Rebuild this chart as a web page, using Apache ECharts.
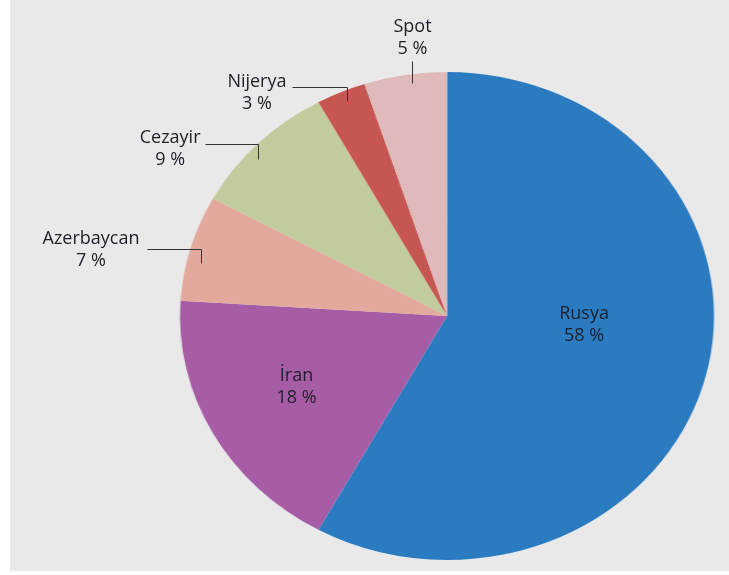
<!DOCTYPE html>
<html>
<head>
<meta charset="utf-8">
<script src="https://cdn.jsdelivr.net/npm/echarts@6/dist/echarts.min.js"></script>
<style>
  html, body { margin: 0; padding: 0; background: #ffffff; }
  #stage { position: relative; width: 729px; height: 575px; overflow: hidden; }
  #panel { position: absolute; left: 10px; top: 0; width: 719px; height: 571px; background: #e9e9e9; }
  #pie { position: absolute; left: 0; top: 0; height: 575px; transform-origin: 0 0; }
  #labels { position: absolute; left: 0; top: 0; width: 729px; height: 575px; }
</style>
</head>
<body>
<div id="stage">
  <div id="panel"></div>
  <div id="pie"></div>
  <div id="labels"></div>
</div>
<script>
// Supplier shares (%), clockwise from 12 o'clock
const categories = ['Rusya', 'İran', 'Azerbaycan', 'Cezayir', 'Nijerya', 'Spot'];
const shares = [58, 18, 7, 9, 3, 5];
const sliceColors = ['#2b7bc1', '#a75ca6', '#e3a99d', '#c2cb9e', '#c65651', '#e0babb'];
const insideNames = ['Rusya', 'İran'];

// Pie geometry: the disc is drawn as an ellipse (horizontal stretch SX)
const CX = 447, CY = 316, RY = 244, SX = 267 / 244;
const FONT = '"Open Sans", "Noto Sans", sans-serif';
const TEXT_COLOR = '#1f1f29';

// Label nudges for the inside labels
const insideShift = { 'Rusya': [16, -22], 'İran': [-41, 11] };
// Leader geometry for the outside labels (corner shift, drop into slice, run length)
const leaders = {
  'Azerbaycan': { side: 'left', shift: [10, 1], down: 14, len: 54, gap: 8, lift: 4 },
  'Cezayir':    { side: 'left', shift: [0, 1],  down: 15, len: 53, gap: 5, lift: 0 },
  'Nijerya':    { side: 'left', shift: [6, -5], down: 14, len: 55, gap: 6, lift: -1 },
  'Spot':       { side: 'top',  shift: [7, 0],  down: 8,  up: 14,  gap: 2 }
};

// Mid-angle edge point of a slice on the unstretched disc (fallback)
function edgePoint(idx) {
  const total = shares.reduce((a, b) => a + b, 0);
  let before = 0;
  for (let i = 0; i < idx; i++) before += shares[i];
  const a = (before + shares[idx] / 2) / total * Math.PI * 2;
  return [CX + RY * Math.sin(a), CY - RY * Math.cos(a)];
}

// --- Slices (stretched layer) ---
const pieEl = document.getElementById('pie');
pieEl.style.width = (729 / SX) + 'px';
pieEl.style.transform = 'scaleX(' + SX + ')';
const pieChart = echarts.init(pieEl, null, { renderer: 'canvas' });
pieChart.setOption({
  animation: false,
  backgroundColor: 'transparent',
  series: [{
    type: 'pie',
    silent: true,
    center: [CX / SX, CY],
    radius: RY,
    startAngle: 90,
    clockwise: true,
    label: { show: false },
    labelLine: { show: false },
    itemStyle: { borderWidth: 0 },
    data: categories.map((name, i) => ({
      name: name,
      value: shares[i],
      itemStyle: { color: sliceColors[i] }
    }))
  }]
});

// --- Labels and leaders (unstretched layer) ---
const labelChart = echarts.init(document.getElementById('labels'), null, { renderer: 'canvas' });
labelChart.setOption({
  animation: false,
  backgroundColor: 'transparent',
  series: [{
    type: 'pie',
    silent: true,
    center: [CX, CY],
    radius: RY,
    startAngle: 90,
    clockwise: true,
    avoidLabelOverlap: false,
    itemStyle: { color: 'rgba(0,0,0,0)', borderWidth: 0 },
    emphasis: { disabled: true },
    label: {
      show: true,
      formatter: '{b}\n{c} %',
      color: TEXT_COLOR,
      fontFamily: FONT,
      fontSize: 18,
      lineHeight: 22,
      align: 'center'
    },
    labelLine: {
      show: true,
      length: 10,
      length2: 10,
      lineStyle: { color: '#333333', width: 1 }
    },
    labelLayout: function (p) {
      const name = categories[p.dataIndex];
      if (insideShift[name]) {
        return { dx: insideShift[name][0], dy: insideShift[name][1] };
      }
      const g = leaders[name];
      const e = (p.labelLinePoints && p.labelLinePoints[0]) || edgePoint(p.dataIndex);
      const x = Math.round(CX + (e[0] - CX) * SX + g.shift[0]) + 0.5;
      const y = Math.round(e[1] + g.shift[1]) + 0.5;
      const w = p.labelRect.width;
      if (g.side === 'top') {
        const top = y - g.up;
        return {
          x: x, y: top - g.gap, align: 'center', verticalAlign: 'bottom',
          labelLinePoints: [[x, y + g.down], [x, top], [x, top]]
        };
      }
      const end = x - g.len;
      return {
        x: end - g.gap - w / 2, y: y - g.lift - 17.5, align: 'center', verticalAlign: 'top',
        labelLinePoints: [[x, y + g.down], [x, y], [end, y]]
      };
    },
    data: categories.map((name, i) => {
      const inside = insideNames.indexOf(name) >= 0;
      return {
        name: name,
        value: shares[i],
        label: { position: inside ? 'inside' : 'outside' },
        labelLine: { show: !inside }
      };
    })
  }]
});
</script>
</body>
</html>
